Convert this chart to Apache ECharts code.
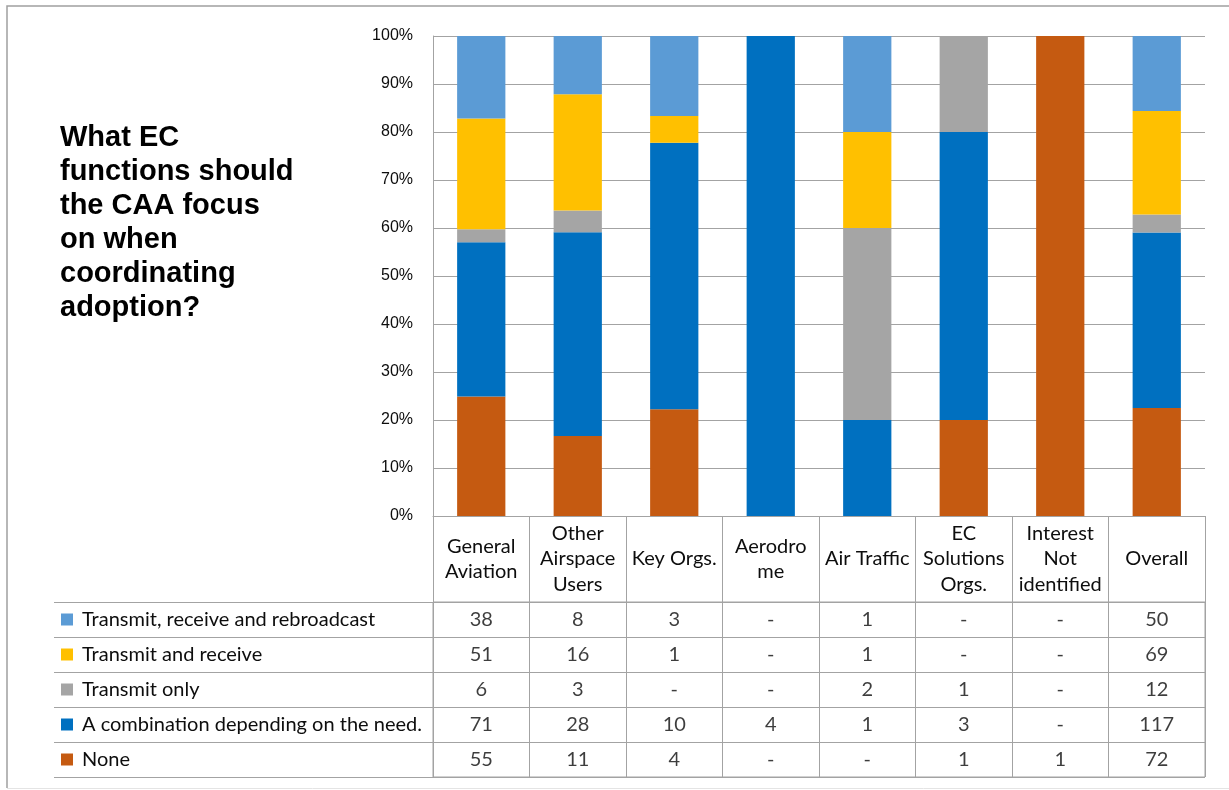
<!DOCTYPE html>
<html>
<head>
<meta charset="utf-8">
<title>EC functions</title>
<script src="https://cdn.jsdelivr.net/npm/echarts@6/dist/echarts.min.js"></script>
<style>
  html, body { margin: 0; padding: 0; background: #ffffff; }
  #chart { width: 1229px; height: 790px; }
</style>
</head>
<body>
<div id="chart"></div>
<script>
// Respondent groups (columns) and answer options (rows)
const categories = ['General\nAviation', 'Other\nAirspace\nUsers', 'Key Orgs.', 'Aerodro\nme', 'Air Traffic', 'EC\nSolutions\nOrgs.', 'Interest\nNot\nidentified', 'Overall'];
const responses = ['Transmit, receive and rebroadcast', 'Transmit and receive', 'Transmit only', 'A combination depending on the need.', 'None'];
const responseColors = ['#5B9BD5', '#FFC000', '#A5A5A5', '#0070C0', '#C55A11'];

// Counts per group (0 is shown as "-")
const rebroadcast     = [38,  8,  3, 0, 1, 0, 0,  50];
const transmitReceive = [51, 16,  1, 0, 1, 0, 0,  69];
const transmitOnly    = [ 6,  3,  0, 0, 2, 1, 0,  12];
const combination     = [71, 28, 10, 4, 1, 3, 0, 117];
const none            = [55, 11,  4, 0, 0, 1, 1,  72];

const yTicks = [0, 10, 20, 30, 40, 50, 60, 70, 80, 90, 100];

const rows = [rebroadcast, transmitReceive, transmitOnly, combination, none];
const totals = categories.map((_, c) => rows.reduce((s, r) => s + r[c], 0));
const pct = arr => arr.map((v, c) => v / totals[c] * 100);

const lineGray = '#A3A3A3';
const tableFont = 'Lato';
const tableSize = 20;
const textColor = '#0d0d0d';

// stacked bars, bottom to top
const barOrder = [4, 3, 2, 1, 0];
const barSeries = barOrder.map(i => ({
  name: responses[i],
  type: 'bar',
  stack: 'share',
  xAxisIndex: 0,
  yAxisIndex: 0,
  barWidth: '50%',
  itemStyle: { color: responseColors[i] },
  data: pct(rows[i])
}));

// table cells
const cellData = [];
rows.forEach((r, ri) => r.forEach((v, ci) => cellData.push([ci, ri, v])));

const rich = { g: { width: 9 }, t: { fontFamily: tableFont, fontSize: tableSize, color: textColor } };
responseColors.forEach((col, i) => {
  rich['s' + i] = { width: 12, height: 12, backgroundColor: col };
});

const chart = echarts.init(document.getElementById('chart'), null, { renderer: 'canvas' });
chart.setOption({
  animation: false,
  backgroundColor: '#ffffff',
  grid: [
    { left: 433, top: 36, width: 772, height: 480, outerBoundsMode: 'none', containLabel: false },
    { left: 433, top: 602, width: 772, height: 175, outerBoundsMode: 'none', containLabel: false,
      show: true, borderColor: lineGray, borderWidth: 1 }
  ],
  xAxis: [
    {
      type: 'category', gridIndex: 0, data: categories,
      axisLine: { show: true, lineStyle: { color: lineGray, width: 1 } },
      axisTick: { show: true, length: 86, interval: 0, lineStyle: { color: lineGray } },
      axisLabel: { interval: 0, margin: 43, verticalAlign: 'middle', lineHeight: 25.5,
                   fontFamily: tableFont, fontSize: tableSize, color: textColor },
      splitLine: { show: false }
    },
    {
      type: 'category', gridIndex: 1, data: categories, position: 'top',
      axisLine: { show: true, lineStyle: { color: lineGray } },
      axisTick: { show: false },
      axisLabel: { show: false },
      splitLine: { show: true, interval: 0, lineStyle: { color: lineGray } }
    }
  ],
  yAxis: [
    {
      type: 'value', gridIndex: 0, min: 0, max: 100, interval: 10,
      axisLine: { show: true, lineStyle: { color: lineGray } },
      axisTick: { show: false },
      axisLabel: { margin: 20, fontFamily: 'Liberation Sans', fontSize: 16, color: textColor,
                   formatter: v => (yTicks.includes(v) ? v + '%' : '') },
      splitLine: { show: true, lineStyle: { color: lineGray } }
    },
    {
      type: 'category', gridIndex: 1, data: responses, inverse: true,
      axisLine: { show: true, lineStyle: { color: lineGray } },
      axisTick: { show: true, length: 379, interval: 0, lineStyle: { color: lineGray } },
      axisLabel: {
        interval: 0, align: 'left', margin: 372,
        formatter: (v, i) => '{s' + i + '|}{g|}{t|' + v + '}',
        rich: rich
      },
      splitLine: { show: true, interval: 0, lineStyle: { color: lineGray } }
    },
    {
      type: 'category', gridIndex: 1, data: responses, inverse: true, offset: 379,
      axisLine: { show: true, lineStyle: { color: lineGray } },
      axisTick: { show: false },
      axisLabel: { show: false },
      splitLine: { show: false }
    }
  ],
  graphic: [
    {
      type: 'polyline', silent: true,
      shape: { points: [[7, 788], [7, 6], [1229, 6]] },
      style: { stroke: '#A0A0A0', lineWidth: 1.5, fill: null }
    },
    {
      type: 'line', silent: true,
      shape: { x1: 7, y1: 788.5, x2: 1229, y2: 788.5 },
      style: { stroke: '#E4E4E4', lineWidth: 1 }
    },
    {
      type: 'text', left: 60, top: 121, silent: true,
      style: {
        text: 'What EC\nfunctions should\nthe CAA focus\non when\ncoordinating\nadoption?',
        font: 'bold 29px "Liberation Sans", Arial, sans-serif',
        lineHeight: 34, fill: '#000'
      }
    }
  ],
  series: barSeries.concat([{
    type: 'scatter',
    xAxisIndex: 1, yAxisIndex: 1,
    symbol: 'rect', symbolSize: 1,
    itemStyle: { color: 'rgba(0,0,0,0)' },
    label: {
      show: true, position: 'inside',
      fontFamily: tableFont, fontSize: tableSize, color: textColor,
      formatter: p => (p.value[2] === 0 ? '-' : String(p.value[2]))
    },
    data: cellData
  }])
});
</script>
</body>
</html>
